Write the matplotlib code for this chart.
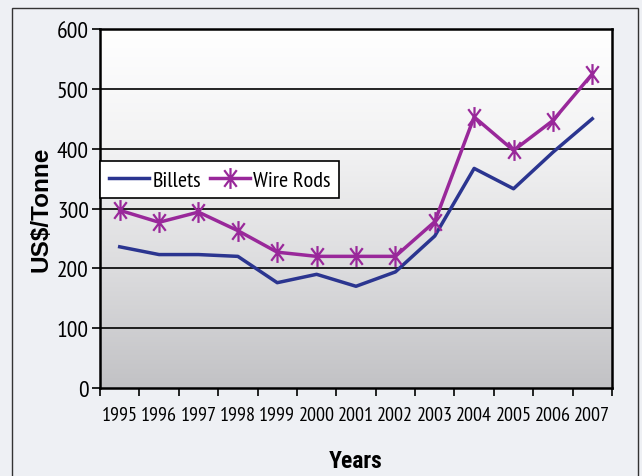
import numpy as np
import matplotlib
matplotlib.use("Agg")
import matplotlib.pyplot as plt
from matplotlib.path import Path
from matplotlib.patches import Rectangle
from matplotlib.colors import LinearSegmentedColormap

years = ["1995", "1996", "1997", "1998", "1999", "2000", "2001",
         "2002", "2003", "2004", "2005", "2006", "2007"]
billets = [236, 223, 223, 220, 176, 190, 170, 194, 254, 367, 333, 394, 450]
wire_rods = [297, 277, 294, 263, 227, 220, 220, 220, 278, 453, 397, 447, 525]
y_ticks = [0, 100, 200, 300, 400, 500, 600]

NARROW = ["Liberation Sans Narrow", "Arial Narrow", "PT Sans Narrow",
          "Roboto Condensed", "Archivo Narrow", "DejaVu Sans"]
NARROW_BOLD = ["Liberation Sans Narrow", "Arial Narrow", "Roboto Condensed",
               "Barlow Condensed", "DejaVu Sans"]
BOLD = ["Liberation Sans", "DejaVu Sans"]

# star marker: vertical bar plus a steep X
star = Path(
    [(0, -1), (0, 1), (-0.6, -0.8), (0.6, 0.8), (-0.6, 0.8), (0.6, -0.8)],
    [Path.MOVETO, Path.LINETO, Path.MOVETO, Path.LINETO, Path.MOVETO, Path.LINETO],
)

fig = plt.figure(figsize=(6.42, 4.77), dpi=100)
fig.patch.set_facecolor("#eef0f4")

# outer frame
fig.add_artist(Rectangle((12 / 642, -0.05), (638 - 12) / 642, 1.05 - 9 / 477,
                         transform=fig.transFigure, fill=False,
                         edgecolor="#333333", linewidth=1.0))

ax = fig.add_axes([100 / 642, 1 - 389 / 477, 512 / 642, 359 / 477])
x = np.arange(len(years))
ax.set_xlim(-0.5, len(years) - 0.5)
ax.set_ylim(0, 600)

# vertical gradient fill of the plotting area
cmap = LinearSegmentedColormap.from_list(
    "bg", ["#c2c2c5", "#dcdcde", "#f2f2f3", "#ffffff"])
grad = np.linspace(0, 1, 256).reshape(-1, 1)
ax.imshow(grad, cmap=cmap, origin="lower", aspect="auto",
          extent=(-0.5, len(years) - 0.5, 0, 600), zorder=0)

for v in y_ticks[1:]:
    ax.axhline(v, color="black", linewidth=1.2, zorder=1)

ax.plot(x, billets, color="#2b3590", linewidth=2.5, label="Billets", zorder=3)
ax.plot(x, wire_rods, color="#99289a", linewidth=2.5, marker=star,
        markersize=15, markeredgewidth=1.6, label="Wire Rods", zorder=4)

for s in ax.spines.values():
    s.set_linewidth(1.8)
    s.set_color("black")
    s.set_zorder(5)

ax.set_yticks(y_ticks)
ax.set_yticklabels([str(v) for v in y_ticks], fontfamily=NARROW, fontsize=17)
ax.set_xticks(x)
ax.set_xticklabels(years, fontfamily=NARROW, fontsize=14.5)
ax.set_xticks(np.arange(-0.5, len(years)), minor=True)
ax.tick_params(axis="x", which="major", length=0, pad=13)
ax.tick_params(axis="x", which="minor", length=6, width=1.2, direction="out")
ax.tick_params(axis="y", length=6, width=1.2, direction="out", pad=2)

ax.set_xlabel("Years", fontfamily=NARROW_BOLD, fontsize=17, fontweight="bold",
              labelpad=18)
ax.set_ylabel("US$/Tonne", fontfamily=BOLD, fontsize=17.5, fontweight="bold",
              labelpad=3)

leg = ax.legend(loc="upper left", bbox_to_anchor=(0.0, 0.632), ncol=2,
                frameon=True, fancybox=False, framealpha=1,
                edgecolor="black", prop={"family": NARROW, "size": 16},
                handlelength=1.8, handletextpad=0.15, columnspacing=0.4,
                borderpad=0.4, borderaxespad=0.0)
leg.get_frame().set_linewidth(1.2)
leg.set_zorder(6)

fig.savefig("out.png", dpi=100, facecolor=fig.get_facecolor())
